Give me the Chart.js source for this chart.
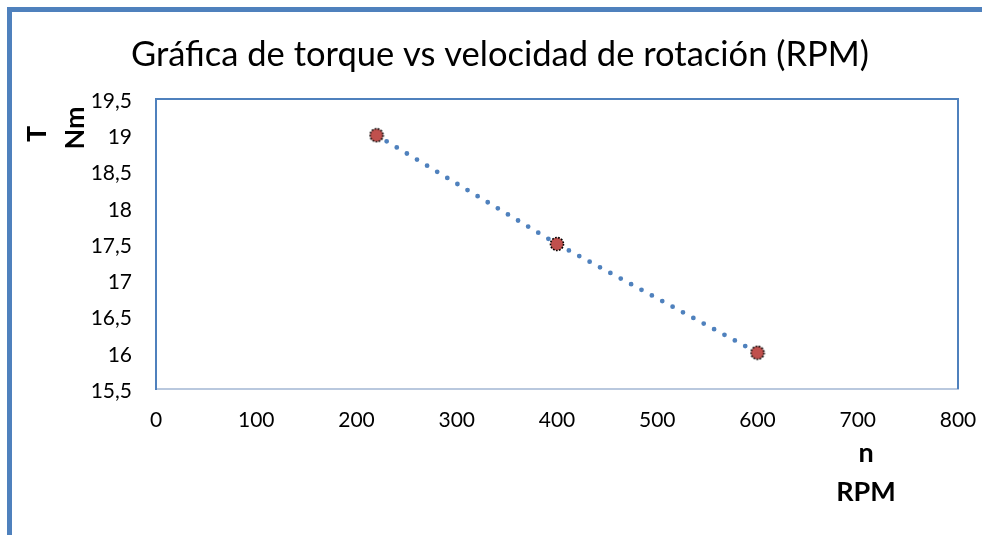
<!DOCTYPE html>
<html>
<head>
<meta charset="utf-8">
<script src="https://cdn.jsdelivr.net/npm/chart.js@4.4.1/dist/chart.umd.min.js"></script>
<style>
  html, body { margin: 0; padding: 0; background: #fff; }
  #torque-chart { display: block; }
</style>
</head>
<body>
<canvas id="torque-chart" width="982" height="535"></canvas>
<script>
const rpm = [220, 400, 600];
const torque = [19, 17.5, 16];
const xRange = [0, 800, 100];
const yRange = [15.5, 19.5, 0.5];
const chartTitle = 'Gráfica de torque vs velocidad de rotación (RPM)';
const yTitleLines = ['T', 'Nm'];
const xTitleLines = ['n', 'RPM'];

const BLUE = '#4F81BD';
const FONT = 'Lato, "Open Sans", sans-serif';

function commaDecimal(v) {
  return String(v).replace('.', ',');
}

// red marker with a dotted black outline, like the office chart
function makeMarker() {
  const c = document.createElement('canvas');
  c.width = 16; c.height = 16;
  const g = c.getContext('2d');
  g.beginPath();
  g.arc(8, 8, 6.5, 0, Math.PI * 2);
  g.fillStyle = '#C0504D';
  g.fill();
  g.setLineDash([1.7, 1.4]);
  g.lineWidth = 1.6;
  g.strokeStyle = '#000';
  g.stroke();
  return c;
}

const decorPlugin = {
  id: 'decor',
  beforeDraw(chart) {
    const ctx = chart.ctx;
    ctx.save();
    // outer frame (only left and top are visible)
    ctx.strokeStyle = BLUE;
    ctx.lineWidth = 5;
    ctx.beginPath();
    ctx.moveTo(9.5, 535);
    ctx.lineTo(9.5, 9.5);
    ctx.lineTo(982, 9.5);
    ctx.stroke();
    ctx.restore();
  },
  afterDraw(chart) {
    const {ctx, chartArea: a} = chart;
    ctx.save();
    ctx.strokeStyle = BLUE;
    ctx.lineWidth = 2;
    ctx.beginPath();
    ctx.moveTo(a.left, a.top);
    ctx.lineTo(a.right, a.top);
    ctx.lineTo(a.right, a.bottom);
    ctx.stroke();

    ctx.fillStyle = '#000';
    ctx.textAlign = 'center';
    ctx.textBaseline = 'alphabetic';
    ctx.font = '34.5px ' + FONT;
    ctx.fillText(chartTitle, 500, 66);

    ctx.font = 'bold 27px ' + FONT;
    ctx.textBaseline = 'middle';
    ctx.fillText(xTitleLines[0], 866, 453);
    ctx.fillText(xTitleLines[1], 866, 492);

    ctx.translate(37, 134);
    ctx.rotate(-Math.PI / 2);
    ctx.fillText(yTitleLines[0], 0, 0);
    ctx.rotate(Math.PI / 2);
    ctx.translate(38, -6);
    ctx.rotate(-Math.PI / 2);
    ctx.fillText(yTitleLines[1], 0, 0);
    ctx.restore();
  }
};

new Chart(document.getElementById('torque-chart'), {
  type: 'scatter',
  data: {
    datasets: [{
      label: 'Torque',
      data: rpm.map((x, i) => ({x, y: torque[i]})),
      showLine: true,
      borderColor: BLUE,
      borderWidth: 4.8,
      borderDash: [0, 11.8],
      borderCapStyle: 'round',
      pointStyle: makeMarker(),
      pointRadius: 7,
      pointHoverRadius: 7
    }]
  },
  options: {
    responsive: false,
    animation: false,
    layout: { padding: { top: 99, right: 24, left: 0, bottom: 0 } },
    plugins: {
      legend: { display: false },
      tooltip: { enabled: false },
      title: { display: false }
    },
    scales: {
      x: {
        type: 'linear',
        min: xRange[0], max: xRange[1],
        afterFit(scale) {
          scale.height = 146;
          scale.paddingLeft = 0;
          scale.paddingRight = 0;
        },
        grid: { display: false, drawTicks: false },
        border: { display: true, color: '#B9C8DE', width: 2 },
        ticks: {
          stepSize: xRange[2],
          padding: 19,
          color: '#000',
          font: { family: FONT, size: 21 },
          callback: v => commaDecimal(v)
        }
      },
      y: {
        type: 'linear',
        min: yRange[0], max: yRange[1],
        afterFit(scale) {
          scale.width = 156;
          scale.paddingTop = 0;
          scale.paddingBottom = 0;
        },
        grid: { display: false, drawTicks: false },
        border: { display: true, color: BLUE, width: 2 },
        ticks: {
          stepSize: yRange[2],
          padding: 24,
          labelOffset: 2,
          color: '#000',
          font: { family: FONT, size: 21 },
          callback: v => commaDecimal(v)
        }
      }
    }
  },
  plugins: [decorPlugin]
});
</script>
</body>
</html>
